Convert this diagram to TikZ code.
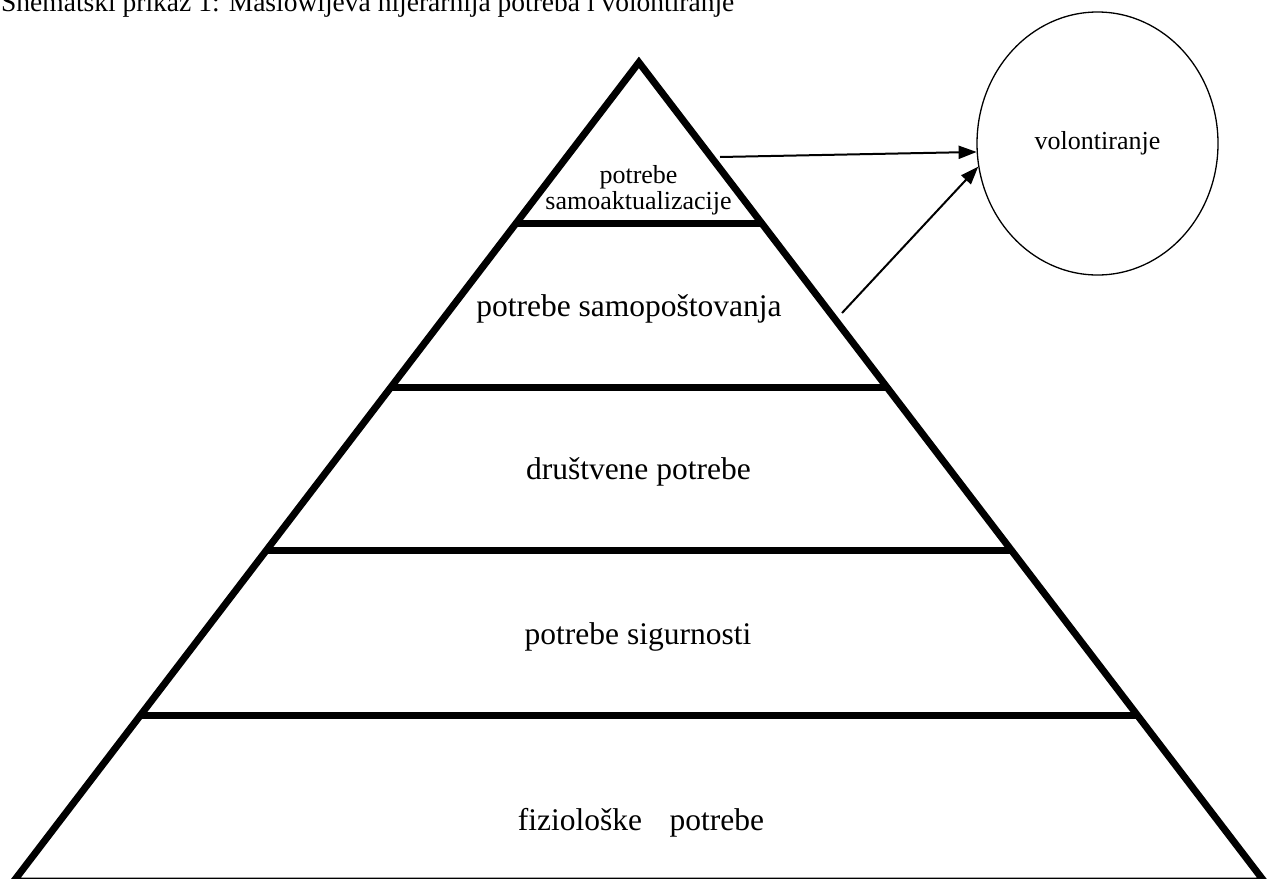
\documentclass[tikz,border=0pt]{standalone}
\usepackage{fontspec}
\setmainfont{Liberation Serif}
\usetikzlibrary{shapes.geometric,arrows.meta}
\begin{document}
\begin{tikzpicture}[x=1pt,y=-1pt,
  pyr/.style={line width=7pt, line join=miter},
  levelbar/.style={line width=7pt},
  bigtext/.style={font=\fontsize{31.5}{31.5}\selectfont, anchor=base, inner sep=0pt},
  smalltext/.style={font=\fontsize{26}{26}\selectfont, inner sep=0pt},
  conn/.style={line width=2pt, -{Triangle[length=18pt,width=13pt]}}]
\path[use as bounding box, clip] (0,0) rectangle (1271,878);
% title (cut at top)
\node[font=\fontsize{27.5}{27.5}\selectfont, anchor=base west, inner sep=0pt] (title) at (1,11)
  {Shematski prikaz 1: Maslowljeva hijerarhija potreba i volontiranje};
% pyramid
\coordinate (apex) at (638.9,62.4);
\coordinate (bl) at (13.9,881);
\coordinate (br) at (1263.9,881);
\draw[pyr] (bl) -- (apex) -- (br) -- cycle;
\draw[levelbar] (516.3,223) -- (761.5,223);
\draw[levelbar] (390.7,387.5) -- (887.1,387.5);
\draw[levelbar] (266.6,550) -- (1011.2,550);
\draw[levelbar] (140.2,715.5) -- (1137.6,715.5);
% level texts
\node[smalltext, align=center] (l5) at (638.5,190.2) {potrebe\\samoaktualizacije};
\node[bigtext] (l4) at (629,316) {potrebe samopoštovanja};
\node[bigtext] (l3) at (638.4,479.3) {društvene potrebe};
\node[bigtext] (l2) at (638,644) {potrebe sigurnosti};
\node[bigtext] (l1) at (641,830) {fiziološke\hspace{19.7pt} potrebe};
% volunteering ellipse
\node[draw, ellipse, minimum width=241pt, minimum height=263pt, inner sep=0pt,
  line width=1.3pt, font=\fontsize{26}{26}\selectfont] (vol) at (1097.5,143.5) {volontiranje};
% arrows
\coordinate (s1) at (720,157);
\coordinate (s2) at (842,313);
\draw[conn] (s1) -- (vol.184.5);
\draw[conn] (s2) -- (vol.191.7);
\end{tikzpicture}
\end{document}
